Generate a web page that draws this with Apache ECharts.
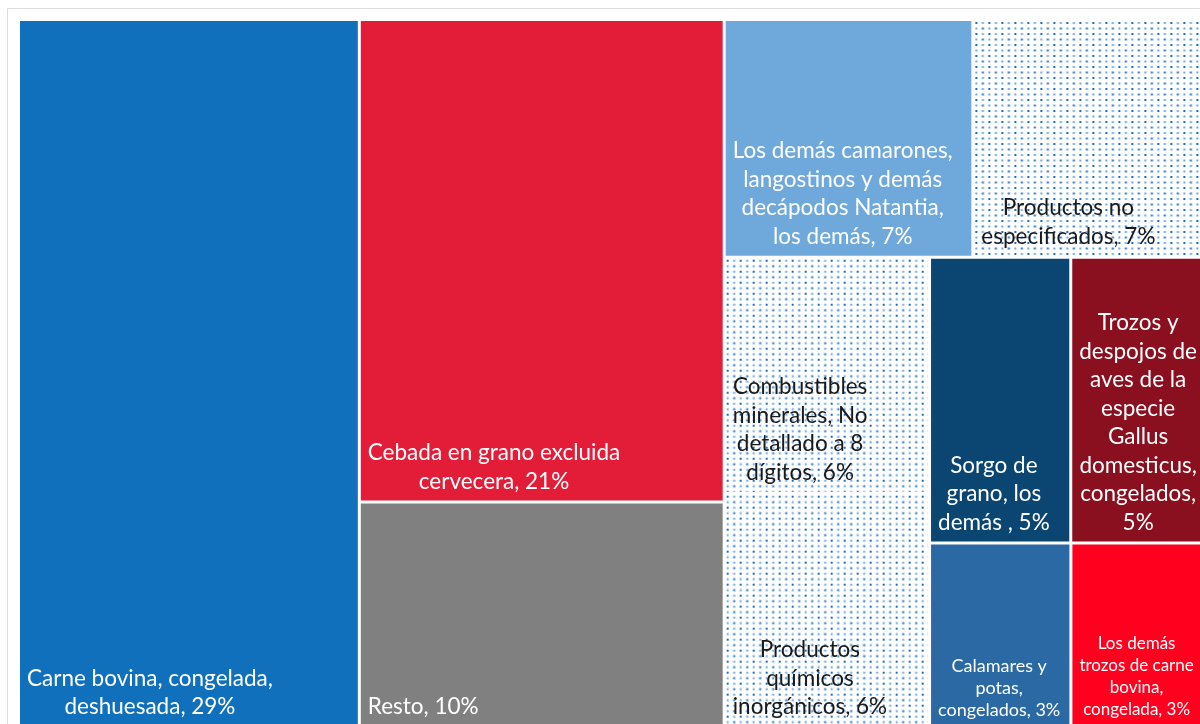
<!DOCTYPE html>
<html>
<head>
<meta charset="utf-8">
<script src="https://cdn.jsdelivr.net/npm/echarts@6/dist/echarts.min.js"></script>
<style>
  html, body { margin: 0; padding: 0; background: #fff; }
  #chart { width: 1200px; height: 724px; }
</style>
</head>
<body>
<div id="chart"></div>
<script>
// productos (orden del layout)
const names = [
  'Carne bovina, congelada, deshuesada',
  'Cebada en grano excluida cervecera',
  'Resto',
  'Los demás camarones, langostinos y demás decápodos Natantia, los demás',
  'Productos no especificados',
  'Combustibles minerales, No detallado a 8 dígitos',
  'Productos químicos inorgánicos',
  'Sorgo de grano, los demás',
  'Trozos y despojos de aves de la especie Gallus domesticus, congelados',
  'Calamares y potas, congelados',
  'Los demás trozos de carne bovina, congelada'
]
// textos tal como aparecen
const labels = [
  'Carne bovina, congelada,\ndeshuesada, 29%',
  'Cebada en grano excluida\ncervecera, 21%',
  'Resto, 10%',
  'Los demás camarones,\nlangostinos y demás\ndecápodos Natantia,\nlos demás, 7%',
  'Productos no\nespecificados, 7%',
  'Combustibles\nminerales, No\ndetallado a 8\ndígitos, 6%',
  'Productos\nquímicos\ninorgánicos, 6%',
  'Sorgo de\ngrano, los\ndemás , 5%',
  'Trozos y\ndespojos de\naves de la\nespecie\nGallus\ndomesticus,\ncongelados,\n5%',
  'Calamares y\npotas,\ncongelados, 3%',
  'Los demás\ntrozos de carne\nbovina,\ncongelada, 3%'
]
// participación estimada a partir del área de cada rectángulo (%)
const values = [28.33, 20.67, 9.66, 6.94, 6.94, 5.69, 5.65, 4.74, 5.06, 3.06, 3.26]

const colors = ['#1070bc', '#e31c38', '#808080', '#6fa9dc', 'dots', 'dots', 'dots',
  '#0b4571', '#8a0f1f', '#2a69a4', '#ff001e']
const darkText = [4, 5, 6]
const fontSizes = [22.5, 22.5, 22.5, 22.5, 22.5, 22.5, 22.5, 22.5, 22.5, 18, 17]

// trama de puntos
const dotTile = document.createElement('canvas')
dotTile.width = 13
dotTile.height = 11
const dctx = dotTile.getContext('2d')
dctx.fillStyle = '#fff'
dctx.fillRect(0, 0, 13, 11)
const dots = [[1, 1, 1], [7.5, 1, 0.6], [1, 6.5, 0.6], [7.5, 6.5, 1]]
dots.forEach(([x, y, a]) => {
  dctx.fillStyle = 'rgba(20,110,200,' + a + ')'
  dctx.fillRect(x, y, 2, 2)
})

const measure = document.createElement('canvas').getContext('2d')
const blockWidth = (text, size) => {
  measure.font = size + 'px Lato'
  return Math.max(...text.split('\n').map(s => measure.measureText(s).width))
}

const leaf = i => {
  const size = fontSizes[i]
  return {
    name: names[i],
    value: values[i],
    itemStyle: { color: colors[i] === 'dots' ? { image: dotTile, repeat: 'repeat' } : colors[i] },
    label: {
      formatter: labels[i],
      position: [7 + blockWidth(labels[i], size) / 2, '100%'],
      align: 'center',
      verticalAlign: 'bottom',
      offset: [0, -5],
      fontSize: size,
      lineHeight: size > 20 ? 28.5 : 22,
      color: darkText.includes(i) ? '#1a1a1a' : '#fff'
    }
  }
}

const tree = [
  leaf(0),
  { name: 'resto-der', children: [
    { name: 'g1', children: [leaf(1), leaf(2)] },
    { name: 'g2', children: [
      { name: 'arriba', children: [leaf(3), leaf(4)] },
      { name: 'abajo', children: [
        { name: 'c1', children: [leaf(5), leaf(6)] },
        { name: 'x', children: [
          { name: 'fila1', children: [leaf(7), leaf(8)] },
          { name: 'fila2', children: [leaf(9), leaf(10)] }
        ] }
      ] }
    ] }
  ] }
]

const chart = echarts.init(document.getElementById('chart'))
chart.setOption({
  animation: false,
  graphic: [{
    type: 'rect',
    shape: { x: 7.5, y: 8.5, width: 1300, height: 800 },
    style: { fill: 'none', stroke: '#dcdcdc', lineWidth: 1 },
    silent: true
  }],
  series: [{
    type: 'treemap',
    left: 20,
    top: 21,
    width: 1200,
    height: 705,
    roam: false,
    nodeClick: false,
    sort: false,
    squareRatio: 1,
    breadcrumb: { show: false },
    itemStyle: { borderWidth: 0, gapWidth: 3, borderColor: '#fff' },
    upperLabel: { show: false },
    label: {
      show: true,
      fontFamily: 'Lato',
      padding: 0,
      overflow: 'none'
    },
    emphasis: { disabled: true },
    data: tree
  }]
})
</script>
</body>
</html>
